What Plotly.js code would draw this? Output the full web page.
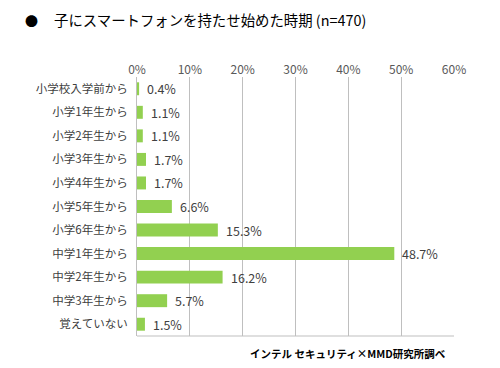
<!DOCTYPE html>
<html><head><meta charset="utf-8">
<script src="https://cdn.plot.ly/plotly-3.0.1.min.js"></script>
<style>body{margin:0;background:#fff}#c{width:500px;height:368px}</style>
</head><body><div id="c"></div>
<script>
var categories = ["小学校入学前から","小学1年生から","小学2年生から","小学3年生から","小学4年生から","小学5年生から","小学6年生から","中学1年生から","中学2年生から","中学3年生から","覚えていない"];
var values = [0.4,1.1,1.1,1.7,1.7,6.6,15.3,48.7,16.2,5.7,1.5];
var tickVals = [0,10,20,30,40,50,60];
var tickText = ["0%","10%","20%","30%","40%","50%","60%"];
var F = '"Noto Sans CJK JP", "Noto Sans", sans-serif';
var trace = {
  type:'bar', orientation:'h',
  x: values, y: categories,
  marker:{color:'#92d050'},
  hoverinfo:'none'
};
var labelAnns = values.map(function(v,i){
  return {x:v,y:categories[i],xref:'x',yref:'y',text:v.toFixed(1)+'%',
    xanchor:'left',yanchor:'middle',xshift:6,showarrow:false,
    font:{family:F,size:12.5,color:'#404040'}};
});
var layout = {
  width:500,height:368,
  margin:{l:137,r:46,t:77,b:32},
  paper_bgcolor:'#fff',plot_bgcolor:'#fff',
  showlegend:false,
  bargap:0.45,
  font:{family:F,color:'#404040',size:12},
  xaxis:{range:[0,60],side:'top',tickvals:tickVals,ticktext:tickText,
    showgrid:true,gridcolor:'#bfbfbf',gridwidth:1,zeroline:false,
    showline:false,ticks:'',tickfont:{size:12,color:'#595959'},fixedrange:true},
  yaxis:{autorange:'reversed',showline:true,linecolor:'#bfbfbf',linewidth:1,
    ticks:'',ticklen:0,ticklabelstandoff:6,tickfont:{size:11.5,color:'#404040'},fixedrange:true},
  shapes:[{type:'line',xref:'paper',yref:'paper',x0:0,x1:1,y0:0,y1:0,line:{color:'#bfbfbf',width:1}}],
  annotations:[
    {text:'●',xref:'paper',yref:'paper',x:(31-137)/317,y:1,yshift:57,xanchor:'center',yanchor:'middle',
     showarrow:false,font:{family:F,size:13,color:'#000'}},
    {text:'子にスマートフォンを持たせ始めた時期 (n=470)',xref:'paper',yref:'paper',
     x:(52-137)/317,y:1,yshift:58,xanchor:'left',yanchor:'middle',showarrow:false,
     font:{family:F,size:14.4,color:'#000'}},
    {text:'<b>インテル セキュリティ×MMD研究所調べ</b>',xref:'paper',yref:'paper',
     x:(448-137)/317,y:0,yshift:-17,xanchor:'right',yanchor:'middle',showarrow:false,
     font:{family:F,size:10.5,color:'#000'}}
  ].concat(labelAnns)
};
Plotly.newPlot('c',[trace],layout,{displayModeBar:false,staticPlot:true});
</script></body></html>
